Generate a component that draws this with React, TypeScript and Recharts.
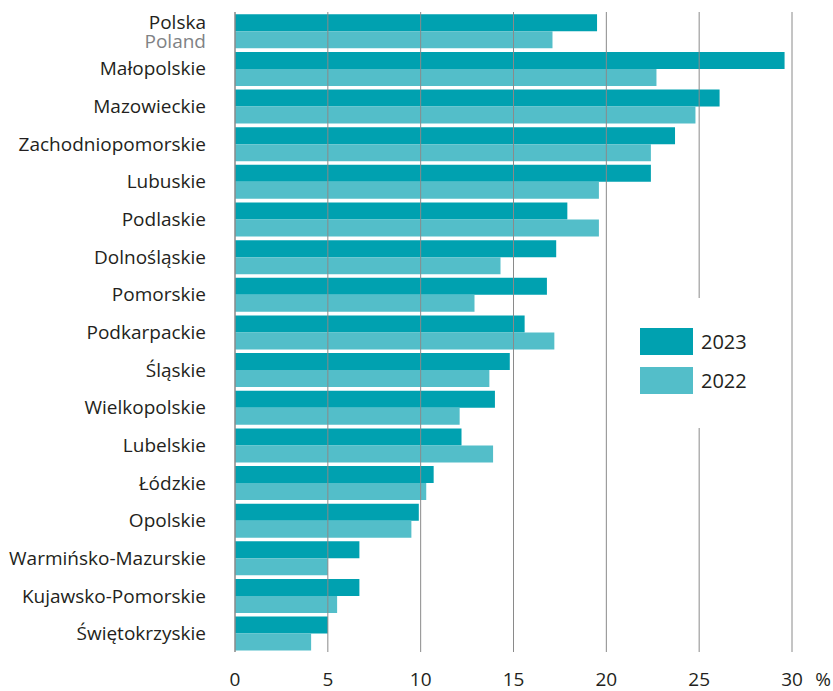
import { BarChart, Bar, XAxis, YAxis, ReferenceLine } from 'recharts';

const categories = [
  'Polska',
  'Małopolskie',
  'Mazowieckie',
  'Zachodniopomorskie',
  'Lubuskie',
  'Podlaskie',
  'Dolnośląskie',
  'Pomorskie',
  'Podkarpackie',
  'Śląskie',
  'Wielkopolskie',
  'Lubelskie',
  'Łódzkie',
  'Opolskie',
  'Warmińsko-Mazurskie',
  'Kujawsko-Pomorskie',
  'Świętokrzyskie',
];
const values2023 = [19.5, 29.6, 26.1, 23.7, 22.4, 17.9, 17.3, 16.8, 15.6, 14.8, 14.0, 12.2, 10.7, 9.9, 6.7, 6.7, 5.0];
const values2022 = [17.1, 22.7, 24.8, 22.4, 19.6, 19.6, 14.3, 12.9, 17.2, 13.7, 12.1, 13.9, 10.3, 9.5, 5.0, 5.5, 4.1];
const xTicks = [0, 5, 10, 15, 20, 25, 30];
const legendItems = ['2023', '2022'];

const data = categories.map((name, i) => ({
  name,
  y2023: values2023[i],
  y2022: values2022[i],
}));

const FONT = '"Open Sans", sans-serif';
const TEXT = '#231f20';
const GRID = '#8a8a8a';
const C2023 = '#00a1b0';
const C2022 = '#53bec9';
const colors = [C2023, C2022];

// etykiety regionów; Polska ma podpis angielski pod spodem
const RegionTick = (props: any) => {
  const { x, y, payload } = props;
  if (payload.value === 'Polska') {
    return (
      <g>
        <text x={x} y={y - 2} textAnchor="end" fontSize={19} fontFamily={FONT} fill={TEXT}>
          Polska
        </text>
        <text x={x} y={y + 17} textAnchor="end" fontSize={19} fontFamily={FONT} fill="#808285">
          Poland
        </text>
      </g>
    );
  }
  return (
    <text x={x} y={y + 7} textAnchor="end" fontSize={19} fontFamily={FONT} fill={TEXT}>
      {payload.value}
    </text>
  );
};

const ValueTick = (props: any) => {
  const { x, y, payload } = props;
  return (
    <g>
      <text x={x} y={y} dy="0.71em" textAnchor="middle" fontSize={19} fontFamily={FONT} fill={TEXT}>
        {payload.value}
      </text>
      {payload.value === 30 && (
        <text x={x + 31} y={y} dy="0.71em" textAnchor="middle" fontSize={19} fontFamily={FONT} fill={TEXT}>
          %
        </text>
      )}
    </g>
  );
};

export default function App() {
  return (
    <div style={{ position: 'absolute', left: 0, top: 0, width: 833, height: 691, background: '#fff' }}>
      <BarChart
        width={833}
        height={691}
        data={data}
        layout="vertical"
        margin={{ top: 12, right: 41, left: 0, bottom: 0 }}
        barCategoryGap="6%"
        barGap={0}
      >
        <XAxis
          type="number"
          domain={[0, 30]}
          ticks={xTicks}
          axisLine={false}
          tickLine={false}
          tickSize={0}
          tickMargin={21}
          height={39}
          tick={<ValueTick />}
          interval={0}
        />
        <YAxis
          type="category"
          dataKey="name"
          width={235}
          axisLine={{ stroke: GRID, strokeWidth: 1.5 }}
          tickLine={false}
          tickSize={0}
          tickMargin={29}
          tick={<RegionTick />}
          interval={0}
        />
        <Bar dataKey="y2023" name="2023" fill={C2023} isAnimationActive={false} />
        <Bar dataKey="y2022" name="2022" fill={C2022} isAnimationActive={false} />
        {xTicks.slice(1).map((t) => (
          <ReferenceLine key={t} x={t} stroke={GRID} strokeWidth={1} />
        ))}
      </BarChart>
      {/* legenda na białym tle, przerywa linię 25 */}
      <div
        style={{
          position: 'absolute',
          left: 610,
          top: 298,
          width: 170,
          height: 130,
          background: '#fff',
          boxSizing: 'border-box',
          padding: '30px 0 0 30px',
          fontFamily: FONT,
          fontSize: 20,
          color: TEXT,
        }}
      >
        {legendItems.map((label, i) => (
          <div key={label} style={{ display: 'flex', alignItems: 'center', height: 27, marginBottom: 12 }}>
            <div style={{ width: 53, height: 27, background: colors[i] }} />
            <span style={{ marginLeft: 8 }}>{label}</span>
          </div>
        ))}
      </div>
    </div>
  );
}
